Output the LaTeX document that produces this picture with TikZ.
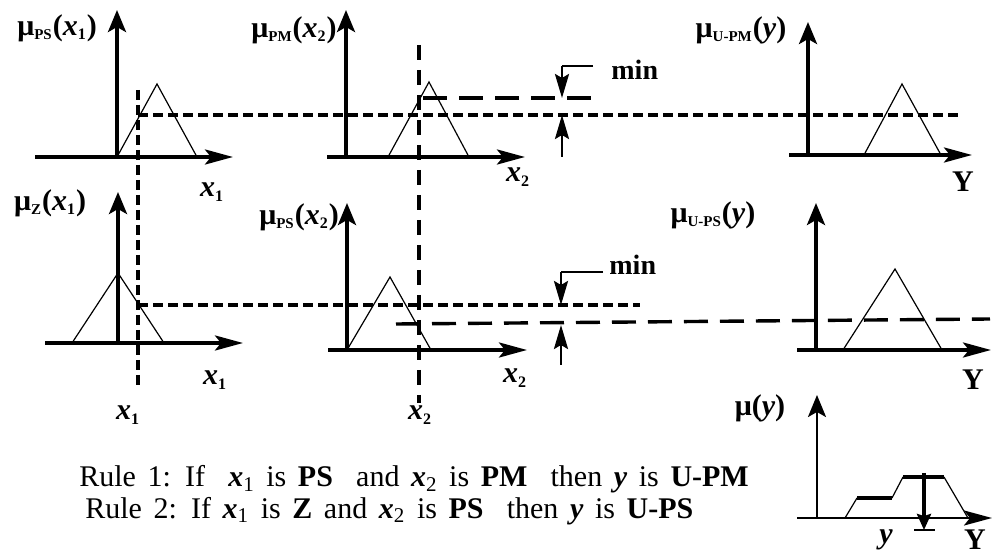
\documentclass[tikz,border=0pt]{standalone}
\usepackage{fontspec}
\setmainfont{Liberation Serif}
\usetikzlibrary{arrows.meta}

\newcommand{\xb}[1]{\textbf{\textit{x}}\textsubscript{\fontsize{8}{8}\selectfont\bfseries #1}}
\newcommand{\xr}[1]{\textbf{\textit{x}}\textsubscript{#1}}
\newcommand{\yb}{\textbf{\textit{y}}}
\newcommand{\mub}[2]{\textbf{μ}\textsubscript{\fontsize{7.5}{7.5}\selectfont\bfseries #1}\textbf{(}#2\textbf{)}}
\newcommand{\rulefont}{\fontsize{15}{15}\selectfont\spaceskip=5.8pt plus 1pt\relax}

\tikzset{
  xaxis/.style={line width=1.8pt, -{Stealth[length=14pt,width=7.5pt,inset=3pt]}},
  yaxis/.style={line width=1.8pt, -{Stealth[length=11pt,width=9pt,inset=2.5pt]}},
  memb/.style={line width=0.6pt},
  sdash/.style={line width=1.7pt, dash pattern=on 5pt off 2.5pt},
  ldash/.style={line width=1.7pt, dash pattern=on 12pt off 6pt},
  vdash/.style={line width=1.7pt, dash pattern=on 7.5pt off 5pt},
  minarr/.style={line width=1.3pt, -{Stealth[length=12pt,width=7pt,inset=2pt]}},
  lab/.style={font=\fontsize{15}{15}\selectfont, inner sep=0pt},
  minlab/.style={font=\fontsize{14}{14}\selectfont\bfseries, inner sep=0pt, anchor=base west},
  rule/.style={font=\rulefont, inner sep=0pt, anchor=base west},
}

\begin{document}
\begin{tikzpicture}[x=0.5pt, y=-0.5pt]
\useasboundingbox (0,0) rectangle (993,556);

% rule 1: x1 is PS
\begin{scope}[shift={(117,157)}]
  \draw[xaxis] (-82,0) -- (116,0);
  \draw[yaxis] (0,0) -- (0,-147);
  \draw[memb] (0,0) -- (40,-73) -- (80,0);
  \node[lab] (mu1) at (-60,-129) {\mub{PS}{\xb{1}}};
  \node[lab] (ax1) at (95,35) {\xb{1}};
\end{scope}

% rule 1: x2 is PM
\begin{scope}[shift={(346,157)}]
  \draw[xaxis] (-19,0) -- (179,0);
  \draw[yaxis] (0,0) -- (0,-147);
  \draw[memb] (42,0) -- (83,-75) -- (123,0);
  \node[lab] (mu2) at (-52,-127) {\mub{PM}{\xb{2}}};
  \node[lab] (ax2) at (172,20) {\xb{2}};
\end{scope}

% rule 1: y is U-PM
\begin{scope}[shift={(808,155)}]
  \draw[xaxis] (-19,0) -- (164,0);
  \draw[yaxis] (0,0) -- (0,-133);
  \draw[memb] (56,0) -- (94,-71) -- (133,0);
  \node[lab] (mu3) at (-67,-125) {\mub{U-PM}{\yb}};
  \node[lab] (ax3) at (155,27) {\textbf{Y}};
\end{scope}

% rule 2: x1 is Z
\begin{scope}[shift={(118,343)}]
  \draw[xaxis] (-73,0) -- (125,0);
  \draw[yaxis] (0,0) -- (0,-151);
  \draw[memb] (-46,0) -- (0,-70) -- (46,0);
  \node[lab] (mu4) at (-68,-140) {\mub{Z}{\xb{1}}};
  \node[lab] (ax4) at (97,37) {\xb{1}};
\end{scope}

% rule 2: x2 is PS
\begin{scope}[shift={(347,350)}]
  \draw[xaxis] (-19,0) -- (180,0);
  \draw[yaxis] (0,0) -- (0,-147);
  \draw[memb] (0,0) -- (43,-73) -- (84,0);
  \node[lab] (mu5) at (-48,-133) {\mub{PS}{\xb{2}}};
  \node[lab] (ax5) at (168,28) {\xb{2}};
\end{scope}

% rule 2: y is U-PS
\begin{scope}[shift={(816,350)}]
  \draw[xaxis] (-19,0) -- (175,0);
  \draw[yaxis] (0,0) -- (0,-147);
  \draw[memb] (27,0) -- (79,-81) -- (126,0);
  \node[lab] (mu6) at (-103,-135) {\mub{U-PS}{\yb}};
  \node[lab] (ax6) at (157,30) {\textbf{Y}};
\end{scope}

% aggregated output
\begin{scope}[shift={(817,518)}]
  \draw[xaxis, line width=1.3pt] (-20,0) -- (175,0);
  \draw[yaxis, line width=1.3pt] (0,0) -- (0,-123);
  \draw[memb] (28,0) -- (40,-20) (75,-20) -- (86,-41) (127,-41) -- (151,0);
  \draw[line width=2.2pt] (40,-20) -- (75,-20) (86,-41) -- (127,-41);
  \draw[line width=1.6pt, -{Stealth[length=8pt,width=7pt,inset=1pt]}] (107,-45) -- (107,12);
  \draw[line width=0.8pt] (97,12) -- (118,12);
  \node[lab] (mu7) at (-57,-110) {\textbf{μ(}\yb\textbf{)}};
  \node[lab] (ax7) at (69,22) {\yb};
  \node[lab] (ax8) at (158,22) {\textbf{Y}};
\end{scope}

% input cuts
\coordinate (c1) at (138,115);
\coordinate (c2) at (138,305);
\draw[sdash] (138,90) -- (138,389);
\draw[sdash] (c1) -- (962,115);
\draw[vdash] (419,45) -- (419,403);
\draw[ldash] (423,98) -- (598,98);
\draw[sdash] (c2) -- (640,305);
\draw[ldash] (396,324) -- (990,319);
\node[lab] (in1) at (128,415) {\xb{1}};
\node[lab] (in2) at (420,415) {\xb{2}};

% min
\draw[line width=0.8pt] (593,66) -- (562,66);
\draw[minarr] (562,66) -- (562,98);
\draw[minarr] (562,157) -- (562,115);
\node[minlab] (min1) at (611,80) {min};
\draw[line width=0.8pt] (603,272) -- (561,272);
\draw[minarr] (561,272) -- (561,305);
\draw[minarr] (561,365) -- (561,325);
\node[minlab] (min2) at (609,275) {min};

\node[rule] (r1) at (79,487) {Rule 1: If \ \xr{1} is \textbf{PS} \ and \xr{2} is \textbf{PM} \ then \yb{} is \textbf{U-PM}};
\node[rule] (r2) at (85,518) {Rule 2: If \xr{1} is \textbf{Z} and \xr{2} is \textbf{PS} \ then \yb{} is \textbf{U-PS}};

\end{tikzpicture}
\end{document}
